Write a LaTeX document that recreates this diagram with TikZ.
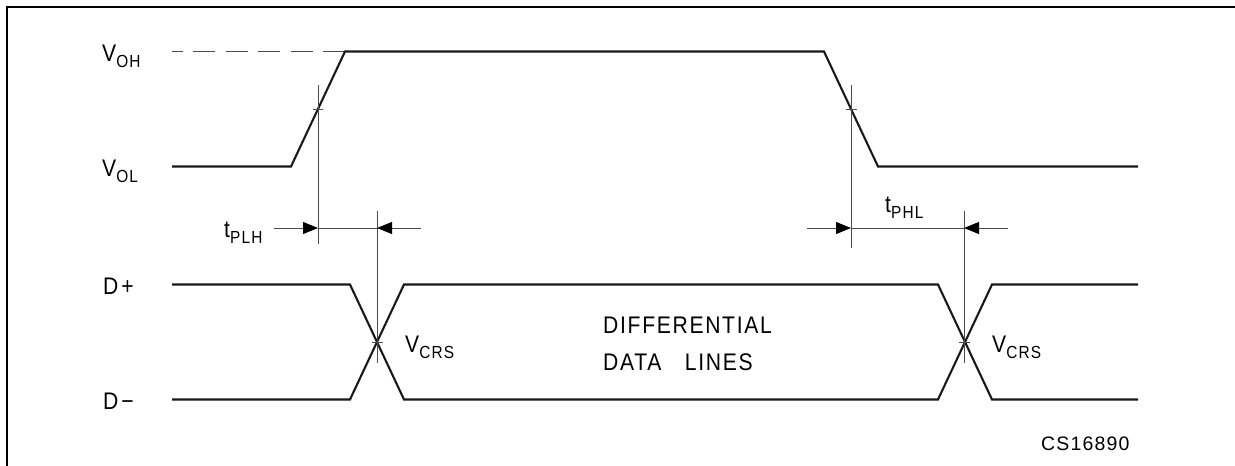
\documentclass[tikz,border=0pt]{standalone}
\usepackage{fontspec}
\setmainfont{Liberation Sans}[LetterSpace=7,FakeStretch=0.88]
\newfontfamily\csfont{Liberation Sans}[LetterSpace=6]
\usetikzlibrary{arrows.meta}
\tikzset{
  wave/.style={line width=2.1pt,line join=miter,line cap=butt,black!90},
  thin line/.style={line width=1pt,black!70},
  frame line/.style={line width=2pt,black},
  dash line/.style={line width=1pt,black!70,dash pattern=on 22pt off 10.4pt,dash phase=11pt},
  label/.style={inner sep=0pt,font=\fontsize{24}{28}\selectfont,anchor=base west},
  tip/.style={-{Triangle[length=15pt,width=12pt,color=black,fill=black]}},
}
\newcommand{\subt}[1]{\raisebox{-6pt}{\fontsize{17.5}{20}\selectfont #1}}
\begin{document}
\begin{tikzpicture}[x=1pt,y=-1pt]
\useasboundingbox (0,0) rectangle (1235,466);
\fill[white] (0,0) rectangle (1235,466);
\coordinate (fa) at (7,466);
\coordinate (fb) at (7,7);
\coordinate (fc) at (1235,7);
\draw[frame line] (fa) -- (fb) -- (fc);
% output waveform
\coordinate (d0) at (172,51.5);
\coordinate (h1) at (345,51.5);
\coordinate (l0) at (172,166.5);
\coordinate (l1) at (291,166.5);
\coordinate (h2) at (824,51.5);
\coordinate (l2) at (878,166.5);
\coordinate (l3) at (1138,166.5);
\draw[dash line] (d0) -- (h1);
\draw[wave] (l0) -- (l1) -- (h1) -- (h2) -- (l2) -- (l3);
% differential lines
\coordinate (p0) at (172,284.5);
\coordinate (p1) at (350,284.5);
\coordinate (p2) at (404,399.5);
\coordinate (p3) at (938,399.5);
\coordinate (p4) at (992,284.5);
\coordinate (p5) at (1138,284.5);
\coordinate (m0) at (172,399.5);
\coordinate (m1) at (350,399.5);
\coordinate (m2) at (404,284.5);
\coordinate (m3) at (938,284.5);
\coordinate (m4) at (992,399.5);
\coordinate (m5) at (1138,399.5);
\draw[wave] (p0) -- (p1) -- (p2) -- (p3) -- (p4) -- (p5);
\draw[wave] (m0) -- (m1) -- (m2) -- (m3) -- (m4) -- (m5);
% verticals and ticks
\coordinate (v1t) at (318,85); \coordinate (v1b) at (318,244);
\coordinate (v2t) at (377,211); \coordinate (v2b) at (377,363);
\coordinate (v3t) at (851,85); \coordinate (v3b) at (851,248);
\coordinate (v4t) at (964,211); \coordinate (v4b) at (964,363);
\draw[thin line] (v1t) -- (v1b);
\draw[thin line] (v2t) -- (v2b);
\draw[thin line] (v3t) -- (v3b);
\draw[thin line] (v4t) -- (v4b);
\coordinate (t1a) at (313,109); \coordinate (t1b) at (323,109);
\coordinate (t2a) at (372,342); \coordinate (t2b) at (383,342);
\coordinate (t3a) at (846,109); \coordinate (t3b) at (857,109);
\coordinate (t4a) at (959,342); \coordinate (t4b) at (970,342);
\draw[thin line] (t1a) -- (t1b);
\draw[thin line] (t2a) -- (t2b);
\draw[thin line] (t3a) -- (t3b);
\draw[thin line] (t4a) -- (t4b);
% dimension arrows
\coordinate (a1) at (274,228); \coordinate (a1e) at (318,228);
\coordinate (a2) at (421,228); \coordinate (a2e) at (377,228);
\coordinate (a3) at (807,228); \coordinate (a3e) at (851,228);
\coordinate (a4) at (1008,228); \coordinate (a4e) at (964,228);
\draw[thin line] (a1e) -- (a2e);
\draw[thin line] (a3e) -- (a4e);
\draw[thin line,tip] (a1) -- (a1e);
\draw[thin line,tip] (a2) -- (a2e);
\draw[thin line,tip] (a3) -- (a3e);
\draw[thin line,tip] (a4) -- (a4e);
% labels
\node[label] (voh) at (102,61) {V\subt{OH}};
\node[label] (vol) at (102,176.5) {V\subt{OL}};
\node[label] (tplh) at (224,237) {t\subt{PLH}};
\node[label] (tphl) at (885,212) {t\subt{PHL}};
\node[label] (dp) at (103,294) {D\hspace{3pt}+};
\node[label] (dm) at (103,409) {D\hspace{3pt}−};
\node[label] (vc1) at (405,352) {V\subt{CRS}};
\node[label] (vc2) at (992,352) {V\subt{CRS}};
\node[label] (df1) at (603,333) {DIFFERENTIAL};
\node[label] (df2) at (603,370) {DATA\hspace{16pt} LINES};
\node[label,font=\csfont\fontsize{19.5}{22}\selectfont] (cs) at (1041,450) {CS16890};
\end{tikzpicture}
\end{document}
